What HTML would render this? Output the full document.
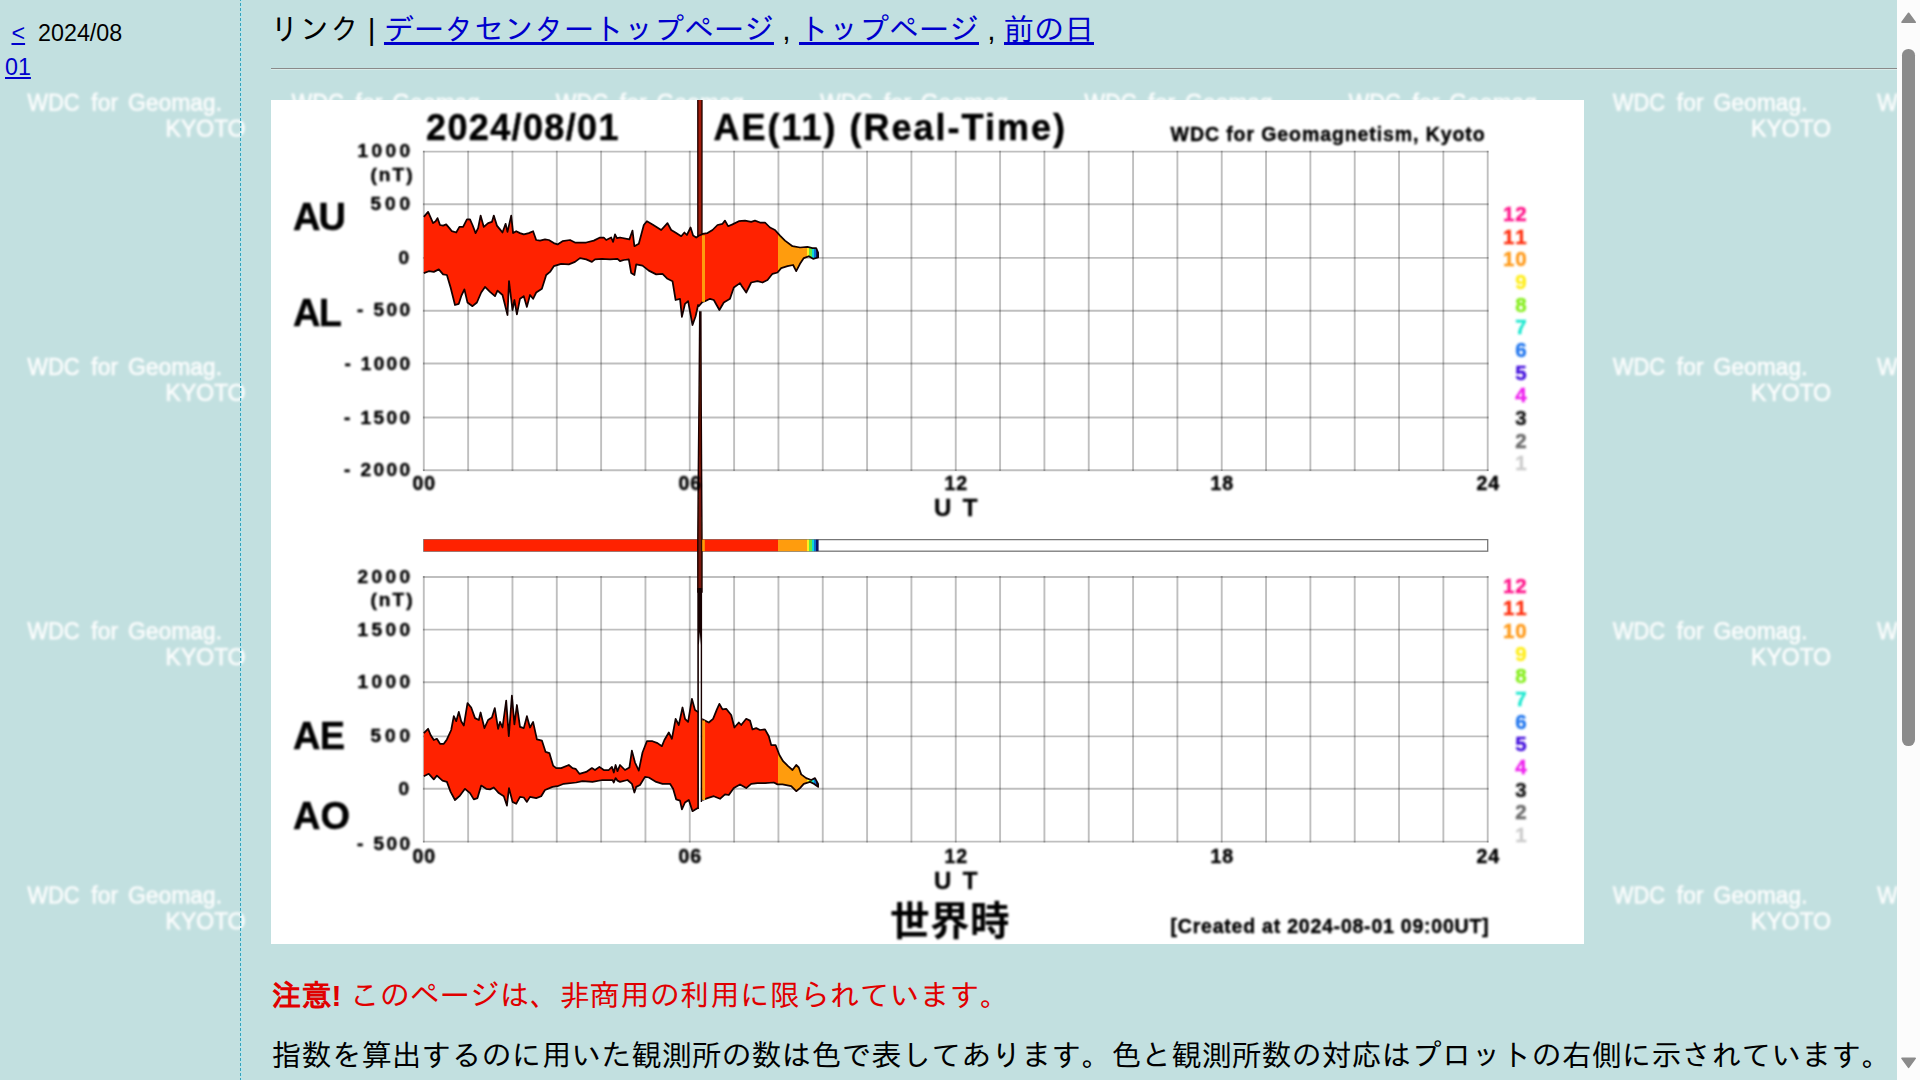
<!DOCTYPE html>
<html lang="ja">
<head>
<meta charset="utf-8">
<title>AE index</title>
<style>
html,body{margin:0;padding:0;width:1920px;height:1080px;overflow:hidden;background:#c2e0e0;}
body{position:relative;font-family:"Liberation Sans","IPAGothic","Noto Sans CJK JP",sans-serif;color:#000;}
a{color:#0000cd;text-decoration:underline;}
#wm{position:absolute;left:0;top:0;width:1897px;height:1080px;z-index:0;}
#divider{position:absolute;left:240px;top:0;width:1px;height:1080px;z-index:1;background:repeating-linear-gradient(to bottom,#3f9fb5 0,#3f9fb5 1px,transparent 1px,transparent 3px,#3f9fb5 3px,#3f9fb5 5px);}
#divider2{position:absolute;left:241px;top:0;width:1px;height:1080px;z-index:1;background:repeating-linear-gradient(to bottom,#a5ecfa 0,#a5ecfa 1px,transparent 1px,transparent 3px,#a5ecfa 3px,#a5ecfa 5px);}
#left{position:absolute;left:0;top:0;width:240px;height:1080px;z-index:2;font-size:23.3px;}
#left .l1{position:absolute;left:5px;top:20px;white-space:pre;line-height:26px;}
#left .l2{position:absolute;left:5px;top:54px;white-space:pre;line-height:26px;}
#main{position:absolute;left:241px;top:0;width:1656px;height:1080px;z-index:2;overflow:hidden;font-size:30px;}
#links{position:absolute;left:28.5px;top:12.5px;white-space:nowrap;line-height:34px;}
#hr{position:absolute;left:30px;top:68px;width:1626px;height:0;border-top:1px solid #8a8a8a;border-bottom:1px solid #d9ecea;}
#plot{position:absolute;left:30px;top:100px;width:1313px;height:844px;background:#fff;}
#note{position:absolute;left:30.5px;top:978.5px;white-space:nowrap;line-height:34px;color:#e00000;}
#desc{position:absolute;left:30.5px;top:1038.5px;white-space:nowrap;line-height:34px;}
#sb{position:absolute;left:1897px;top:0;width:23px;height:1080px;background:#fcfcfc;z-index:3;}
#sb .thumb{position:absolute;left:5.3px;top:49px;width:12.6px;height:697px;border-radius:6.3px;background:#8b8b8b;}
#sb svg{position:absolute;left:0;top:0;}
</style>
</head>
<body>
<svg id="wm" width="1897" height="1080">
<defs>
<filter id="wb" x="-5%" y="-20%" width="110%" height="140%"><feGaussianBlur stdDeviation="0.85"/></filter>
<pattern id="wp" x="0" y="0" width="264.25" height="264.25" patternUnits="userSpaceOnUse">
<g fill="#fff" fill-opacity="0.95" stroke="#fff" stroke-opacity="0.8" stroke-width="0.7" font-family="Liberation Sans, sans-serif" filter="url(#wb)">
<text y="110.6" font-size="23.5"><tspan x="27.5" textLength="52" lengthAdjust="spacingAndGlyphs">WDC</tspan><tspan x="91.3" textLength="26.8" lengthAdjust="spacingAndGlyphs">for</tspan><tspan x="128.1" textLength="93.8" lengthAdjust="spacingAndGlyphs">Geomag.</tspan></text>
<text x="165.6" y="136.5" font-size="23" textLength="80" lengthAdjust="spacing">KYOTO</text>
</g>
</pattern>
</defs>
<rect x="0" y="0" width="1897" height="1080" fill="url(#wp)"/>
</svg>
<div id="divider"></div><div id="divider2"></div>
<div id="left">
<div class="l1">&nbsp;<a>&lt;</a>&nbsp;&nbsp;2024/08</div>
<div class="l2"><a>01</a></div>
</div>
<div id="main">
<div id="links">リンク | <a>データセンタートップページ</a> , <a>トップページ</a> , <a>前の日</a></div>
<div id="hr"></div>
<div id="plot"><!--PLOT--><svg id="plotsvg" width="1313" height="844" viewBox="271 100 1313 844" font-family="Liberation Sans, sans-serif" font-weight="bold">
<defs>
<filter id="pb" x="-2%" y="-2%" width="104%" height="104%"><feGaussianBlur stdDeviation="0.45"/></filter>
<filter id="pt" x="-2%" y="-2%" width="104%" height="104%"><feGaussianBlur stdDeviation="0.85"/></filter>
<linearGradient id="cg" gradientUnits="userSpaceOnUse" x1="423.8" y1="0" x2="818.6" y2="0">
<stop offset="0.00000" stop-color="#ff2000"/>
<stop offset="0.89615" stop-color="#ff2000"/>
<stop offset="0.89640" stop-color="#ff9c08"/>
<stop offset="0.97112" stop-color="#ff9c08"/>
<stop offset="0.97138" stop-color="#ffee20"/>
<stop offset="0.97670" stop-color="#ffee20"/>
<stop offset="0.97695" stop-color="#66e840"/>
<stop offset="0.98227" stop-color="#66e840"/>
<stop offset="0.98252" stop-color="#10d8d8"/>
<stop offset="0.98784" stop-color="#10d8d8"/>
<stop offset="0.98810" stop-color="#1070d0"/>
<stop offset="0.99341" stop-color="#1070d0"/>
<stop offset="0.99367" stop-color="#101860"/>
<stop offset="1.00000" stop-color="#101860"/>
</linearGradient>
<filter id="pb2" x="-50%" y="-2%" width="200%" height="104%"><feGaussianBlur stdDeviation="0.45"/></filter>
<clipPath id="ct"><rect x="271" y="100" width="1313" height="440"/></clipPath>
</defs>
<rect x="271" y="100" width="1313" height="844" fill="#fff"/>
<g filter="url(#pb)">
</g><g filter="url(#pb2)">
<path d="M423.80 150.70V471.10M468.13 150.70V471.10M512.46 150.70V471.10M556.79 150.70V471.10M601.12 150.70V471.10M645.45 150.70V471.10M689.78 150.70V471.10M734.10 150.70V471.10M778.43 150.70V471.10M822.76 150.70V471.10M867.09 150.70V471.10M911.42 150.70V471.10M955.75 150.70V471.10M1000.08 150.70V471.10M1044.41 150.70V471.10M1088.74 150.70V471.10M1133.07 150.70V471.10M1177.40 150.70V471.10M1221.73 150.70V471.10M1266.05 150.70V471.10M1310.38 150.70V471.10M1354.71 150.70V471.10M1399.04 150.70V471.10M1443.37 150.70V471.10M1487.70 150.70V471.10M423.80 576.10V842.50M468.13 576.10V842.50M512.46 576.10V842.50M556.79 576.10V842.50M601.12 576.10V842.50M645.45 576.10V842.50M689.78 576.10V842.50M734.10 576.10V842.50M778.43 576.10V842.50M822.76 576.10V842.50M867.09 576.10V842.50M911.42 576.10V842.50M955.75 576.10V842.50M1000.08 576.10V842.50M1044.41 576.10V842.50M1088.74 576.10V842.50M1133.07 576.10V842.50M1177.40 576.10V842.50M1221.73 576.10V842.50M1266.05 576.10V842.50M1310.38 576.10V842.50M1354.71 576.10V842.50M1399.04 576.10V842.50M1443.37 576.10V842.50M1487.70 576.10V842.50" fill="none" stroke="#000" stroke-opacity="0.25" stroke-width="1.9"/>
<path d="M422.90 151.60H1488.60M422.90 204.20H1488.60M422.90 257.90H1488.60M422.90 310.70H1488.60M422.90 363.50H1488.60M422.90 417.50H1488.60M422.90 470.20H1488.60M422.90 577.00H1488.60M422.90 629.60H1488.60M422.90 682.30H1488.60M422.90 736.40H1488.60M422.90 788.80H1488.60M422.90 841.60H1488.60" fill="none" stroke="#000" stroke-opacity="0.25" stroke-width="1.9"/>
</g><g filter="url(#pb)">
<rect x="423.8" y="539.6" width="1063.9" height="11.6" fill="#fff" stroke="#777" stroke-width="1.3"/>
<rect x="423.8" y="539.6" width="394.8" height="11.6" fill="url(#cg)"/>
</g><g filter="url(#pb2)">
<rect x="697.8" y="98" width="4.2" height="142" fill="#a01a08" stroke="#1a0500" stroke-width="1.3"/>
<path d="M699.7 312 L699.0 400 L698.3 470 L697.8 540 L697.8 592 L702.0 592 L702.0 540 L701.6 470 L701.2 400 L700.9 312 Z" fill="#7a1508" stroke="#1a0500" stroke-width="1.4"/>
</g><g filter="url(#pb)">
<polygon points="423.8,216.9 428.1,211.9 430.0,216.2 433.1,223.1 435.6,221.2 437.5,218.1 440.0,225.0 443.1,225.6 446.2,224.4 449.4,228.1 451.9,231.2 456.2,232.5 459.4,226.9 463.1,226.9 466.9,219.4 470.0,219.4 472.5,225.0 475.6,233.1 478.1,228.1 480.6,215.6 483.8,226.9 488.1,223.1 491.9,221.9 493.8,215.6 496.9,225.6 500.0,229.4 502.5,232.5 505.6,223.8 507.5,231.9 511.2,215.6 513.1,233.1 516.2,231.2 520.0,233.1 523.8,234.4 528.8,233.1 533.1,231.2 536.2,240.0 540.0,240.6 545.0,239.4 548.8,240.0 553.8,243.1 557.5,244.4 562.5,241.2 570.0,240.0 575.0,242.5 586.2,242.5 593.8,240.6 600.0,237.5 603.8,237.5 606.2,240.0 611.2,237.5 613.1,241.9 615.0,234.4 616.9,238.1 620.0,237.5 629.4,239.4 632.5,230.6 634.4,246.2 638.8,243.8 643.8,225.0 646.9,221.2 652.5,224.4 661.2,230.0 667.5,223.1 671.2,230.0 676.2,233.1 681.2,236.2 684.4,232.5 686.9,235.0 690.6,227.5 693.1,235.6 696.2,237.5 698.1,236.2 699.0,235.5 702.0,234.5 702.5,233.8 707.5,233.1 712.5,230.0 717.5,225.0 722.5,223.8 725.0,220.6 728.1,226.2 732.5,224.4 738.8,221.2 745.0,220.6 751.2,221.9 755.0,220.6 760.0,222.5 765.0,222.5 770.0,227.5 775.0,230.0 780.0,235.6 785.0,240.6 792.5,246.2 800.0,247.5 807.5,246.9 812.5,248.1 816.2,248.1 818.1,252.5 818.1,257.5 813.1,258.8 808.8,256.2 803.8,258.1 800.0,263.8 796.2,271.2 793.1,265.0 787.5,266.2 781.2,268.1 777.5,272.5 772.5,273.8 767.5,280.0 762.5,282.5 757.5,281.2 751.2,282.5 746.2,292.5 741.9,286.2 740.0,283.1 733.8,287.5 730.0,298.8 723.8,302.5 719.4,310.0 713.8,300.0 710.0,298.8 705.0,301.2 702.5,301.9 702.0,302.5 699.0,306.0 698.1,305.0 695.6,316.2 692.5,325.0 688.1,301.2 685.0,303.8 681.9,316.9 680.0,298.8 675.6,300.0 672.5,281.2 667.5,278.8 662.5,273.8 656.2,274.4 648.8,270.6 642.5,265.6 636.2,264.4 634.4,275.0 631.2,273.1 628.8,259.4 623.8,260.0 620.0,261.2 617.5,258.8 610.0,259.4 601.9,258.8 595.0,259.4 591.9,261.9 586.2,259.4 580.0,258.1 575.0,261.9 568.8,264.4 561.2,263.8 553.8,266.2 550.0,271.9 546.2,275.0 541.9,288.8 536.2,292.5 533.1,298.8 530.0,295.0 526.9,306.9 523.8,296.2 520.0,298.8 516.9,314.4 514.4,300.0 512.5,310.0 509.0,281.2 507.5,315.0 502.5,295.0 497.5,290.6 495.0,296.2 490.0,291.9 485.0,286.9 481.2,292.5 476.9,302.5 472.5,306.2 467.5,302.5 464.4,289.4 461.2,296.2 458.8,303.8 455.0,305.0 450.6,287.5 446.9,275.0 443.1,274.4 438.8,269.4 433.8,271.9 428.8,271.2 423.8,273.1" fill="url(#cg)"/><polyline points="423.8,216.9 428.1,211.9 430.0,216.2 433.1,223.1 435.6,221.2 437.5,218.1 440.0,225.0 443.1,225.6 446.2,224.4 449.4,228.1 451.9,231.2 456.2,232.5 459.4,226.9 463.1,226.9 466.9,219.4 470.0,219.4 472.5,225.0 475.6,233.1 478.1,228.1 480.6,215.6 483.8,226.9 488.1,223.1 491.9,221.9 493.8,215.6 496.9,225.6 500.0,229.4 502.5,232.5 505.6,223.8 507.5,231.9 511.2,215.6 513.1,233.1 516.2,231.2 520.0,233.1 523.8,234.4 528.8,233.1 533.1,231.2 536.2,240.0 540.0,240.6 545.0,239.4 548.8,240.0 553.8,243.1 557.5,244.4 562.5,241.2 570.0,240.0 575.0,242.5 586.2,242.5 593.8,240.6 600.0,237.5 603.8,237.5 606.2,240.0 611.2,237.5 613.1,241.9 615.0,234.4 616.9,238.1 620.0,237.5 629.4,239.4 632.5,230.6 634.4,246.2 638.8,243.8 643.8,225.0 646.9,221.2 652.5,224.4 661.2,230.0 667.5,223.1 671.2,230.0 676.2,233.1 681.2,236.2 684.4,232.5 686.9,235.0 690.6,227.5 693.1,235.6 696.2,237.5 698.1,236.2 699.0,235.5 702.0,234.5 702.5,233.8 707.5,233.1 712.5,230.0 717.5,225.0 722.5,223.8 725.0,220.6 728.1,226.2 732.5,224.4 738.8,221.2 745.0,220.6 751.2,221.9 755.0,220.6 760.0,222.5 765.0,222.5 770.0,227.5 775.0,230.0 780.0,235.6 785.0,240.6 792.5,246.2 800.0,247.5 807.5,246.9 812.5,248.1 816.2,248.1 818.1,252.5 818.1,257.5 813.1,258.8 808.8,256.2 803.8,258.1 800.0,263.8 796.2,271.2 793.1,265.0 787.5,266.2 781.2,268.1 777.5,272.5 772.5,273.8 767.5,280.0 762.5,282.5 757.5,281.2 751.2,282.5 746.2,292.5 741.9,286.2 740.0,283.1 733.8,287.5 730.0,298.8 723.8,302.5 719.4,310.0 713.8,300.0 710.0,298.8 705.0,301.2 702.5,301.9 702.0,302.5 699.0,306.0 698.1,305.0 695.6,316.2 692.5,325.0 688.1,301.2 685.0,303.8 681.9,316.9 680.0,298.8 675.6,300.0 672.5,281.2 667.5,278.8 662.5,273.8 656.2,274.4 648.8,270.6 642.5,265.6 636.2,264.4 634.4,275.0 631.2,273.1 628.8,259.4 623.8,260.0 620.0,261.2 617.5,258.8 610.0,259.4 601.9,258.8 595.0,259.4 591.9,261.9 586.2,259.4 580.0,258.1 575.0,261.9 568.8,264.4 561.2,263.8 553.8,266.2 550.0,271.9 546.2,275.0 541.9,288.8 536.2,292.5 533.1,298.8 530.0,295.0 526.9,306.9 523.8,296.2 520.0,298.8 516.9,314.4 514.4,300.0 512.5,310.0 509.0,281.2 507.5,315.0 502.5,295.0 497.5,290.6 495.0,296.2 490.0,291.9 485.0,286.9 481.2,292.5 476.9,302.5 472.5,306.2 467.5,302.5 464.4,289.4 461.2,296.2 458.8,303.8 455.0,305.0 450.6,287.5 446.9,275.0 443.1,274.4 438.8,269.4 433.8,271.9 428.8,271.2 423.8,273.1" fill="none" stroke="#120300" stroke-width="1.75" stroke-linejoin="round"/>
<rect x="702" y="235.3" width="3" height="66.5" fill="#ff9c08"/>
<rect x="702.2" y="539.6" width="2.6" height="11.6" fill="#ff9c08"/>
<polygon points="423.8,733.1 428.1,728.8 430.6,735.0 433.8,740.0 436.9,738.8 440.0,743.8 443.8,743.8 446.9,739.4 451.2,730.0 453.8,716.2 456.2,721.2 458.8,711.9 461.2,721.2 463.8,725.6 467.5,703.1 471.2,707.5 475.0,718.1 478.8,720.0 480.6,712.5 484.4,728.1 488.1,720.0 491.9,717.5 494.8,708.1 498.1,728.8 500.0,721.9 502.5,727.5 506.2,700.6 508.8,736.2 511.9,695.6 514.4,724.4 516.9,705.0 520.0,726.9 523.8,728.1 526.9,716.2 530.0,727.5 533.1,721.9 536.9,739.4 541.9,740.6 545.6,751.9 549.4,753.1 553.1,765.6 556.2,768.1 561.2,768.1 568.8,765.0 572.5,768.1 575.6,768.8 579.4,773.8 586.2,771.9 591.9,768.1 595.0,770.0 599.4,766.9 603.8,770.0 608.8,770.0 611.9,766.9 613.8,772.5 615.6,765.0 617.5,771.2 620.0,765.0 625.0,770.0 629.4,767.5 631.9,750.6 635.0,762.5 638.8,770.6 642.5,752.5 646.9,741.2 652.5,741.2 657.5,743.1 661.9,746.2 664.4,740.0 668.8,732.5 671.9,738.8 675.6,718.8 678.8,725.0 682.5,707.5 685.0,718.8 688.1,721.9 691.9,698.8 695.0,710.0 697.8,711.9 698.5,712.0 698.5,808.0 697.8,808.1 692.5,811.2 688.8,800.0 685.0,802.5 681.9,809.4 680.0,800.6 676.2,799.4 673.1,788.8 670.0,783.8 662.5,783.8 656.2,781.9 648.8,777.5 645.0,776.9 640.0,785.0 636.2,786.9 634.4,792.5 631.9,783.8 627.5,780.0 620.0,781.9 617.5,780.6 615.6,778.1 613.8,782.5 612.5,780.0 602.5,780.0 592.5,781.9 582.5,781.2 576.2,782.5 563.8,783.8 557.5,786.2 552.5,786.9 545.0,790.0 541.2,796.2 536.2,798.1 530.0,796.9 526.9,801.9 523.8,797.5 520.0,796.9 516.2,803.8 512.5,801.9 509.0,788.1 506.9,805.6 503.8,796.2 498.8,793.1 493.8,787.5 490.0,789.4 486.2,788.8 481.2,785.6 477.5,798.1 473.8,799.4 470.0,793.1 465.0,788.8 460.0,795.6 455.0,800.0 450.6,791.9 446.9,781.9 442.5,780.6 436.9,775.6 433.8,779.4 428.8,773.8 423.8,776.2" fill="url(#cg)"/><polyline points="423.8,733.1 428.1,728.8 430.6,735.0 433.8,740.0 436.9,738.8 440.0,743.8 443.8,743.8 446.9,739.4 451.2,730.0 453.8,716.2 456.2,721.2 458.8,711.9 461.2,721.2 463.8,725.6 467.5,703.1 471.2,707.5 475.0,718.1 478.8,720.0 480.6,712.5 484.4,728.1 488.1,720.0 491.9,717.5 494.8,708.1 498.1,728.8 500.0,721.9 502.5,727.5 506.2,700.6 508.8,736.2 511.9,695.6 514.4,724.4 516.9,705.0 520.0,726.9 523.8,728.1 526.9,716.2 530.0,727.5 533.1,721.9 536.9,739.4 541.9,740.6 545.6,751.9 549.4,753.1 553.1,765.6 556.2,768.1 561.2,768.1 568.8,765.0 572.5,768.1 575.6,768.8 579.4,773.8 586.2,771.9 591.9,768.1 595.0,770.0 599.4,766.9 603.8,770.0 608.8,770.0 611.9,766.9 613.8,772.5 615.6,765.0 617.5,771.2 620.0,765.0 625.0,770.0 629.4,767.5 631.9,750.6 635.0,762.5 638.8,770.6 642.5,752.5 646.9,741.2 652.5,741.2 657.5,743.1 661.9,746.2 664.4,740.0 668.8,732.5 671.9,738.8 675.6,718.8 678.8,725.0 682.5,707.5 685.0,718.8 688.1,721.9 691.9,698.8 695.0,710.0 697.8,711.9 698.5,712.0" fill="none" stroke="#120300" stroke-width="1.75" stroke-linejoin="round"/><polyline points="423.8,776.2 428.8,773.8 433.8,779.4 436.9,775.6 442.5,780.6 446.9,781.9 450.6,791.9 455.0,800.0 460.0,795.6 465.0,788.8 470.0,793.1 473.8,799.4 477.5,798.1 481.2,785.6 486.2,788.8 490.0,789.4 493.8,787.5 498.8,793.1 503.8,796.2 506.9,805.6 509.0,788.1 512.5,801.9 516.2,803.8 520.0,796.9 523.8,797.5 526.9,801.9 530.0,796.9 536.2,798.1 541.2,796.2 545.0,790.0 552.5,786.9 557.5,786.2 563.8,783.8 576.2,782.5 582.5,781.2 592.5,781.9 602.5,780.0 612.5,780.0 613.8,782.5 615.6,778.1 617.5,780.6 620.0,781.9 627.5,780.0 631.9,783.8 634.4,792.5 636.2,786.9 640.0,785.0 645.0,776.9 648.8,777.5 656.2,781.9 662.5,783.8 670.0,783.8 673.1,788.8 676.2,799.4 680.0,800.6 681.9,809.4 685.0,802.5 688.8,800.0 692.5,811.2 697.8,808.1 698.5,808.0" fill="none" stroke="#120300" stroke-width="1.75" stroke-linejoin="round"/>
<polygon points="702.3,719.5 702.5,719.4 708.8,722.5 713.1,718.8 716.9,709.4 719.4,703.8 722.5,709.4 726.2,708.8 731.2,715.0 734.4,727.5 738.8,722.5 741.2,725.0 746.2,718.8 750.0,720.6 752.5,729.4 756.2,728.1 760.0,730.0 765.0,729.4 768.8,736.2 771.2,745.0 775.6,745.0 779.4,755.0 783.1,761.2 788.1,766.2 792.5,770.0 796.2,765.0 798.8,767.5 801.2,774.4 806.2,778.1 811.2,780.0 815.0,778.1 818.1,783.8 818.1,786.9 813.8,783.8 810.0,781.9 803.8,783.8 800.0,788.1 796.2,791.2 791.2,786.2 782.5,784.4 777.5,784.4 773.8,782.5 765.0,783.1 757.5,783.1 751.2,783.8 746.2,788.1 740.0,784.4 733.8,788.1 728.8,795.0 725.0,794.4 720.0,798.8 713.8,796.2 707.5,798.1 702.5,800.0 702.3,800.5" fill="url(#cg)"/><polyline points="702.3,719.5 702.5,719.4 708.8,722.5 713.1,718.8 716.9,709.4 719.4,703.8 722.5,709.4 726.2,708.8 731.2,715.0 734.4,727.5 738.8,722.5 741.2,725.0 746.2,718.8 750.0,720.6 752.5,729.4 756.2,728.1 760.0,730.0 765.0,729.4 768.8,736.2 771.2,745.0 775.6,745.0 779.4,755.0 783.1,761.2 788.1,766.2 792.5,770.0 796.2,765.0 798.8,767.5 801.2,774.4 806.2,778.1 811.2,780.0 815.0,778.1 818.1,783.8 818.1,786.9 813.8,783.8 810.0,781.9 803.8,783.8 800.0,788.1 796.2,791.2 791.2,786.2 782.5,784.4 777.5,784.4 773.8,782.5 765.0,783.1 757.5,783.1 751.2,783.8 746.2,788.1 740.0,784.4 733.8,788.1 728.8,795.0 725.0,794.4 720.0,798.8 713.8,796.2 707.5,798.1 702.5,800.0 702.3,800.5" fill="none" stroke="#120300" stroke-width="1.75" stroke-linejoin="round"/>
<rect x="702.3" y="720.5" width="2.8" height="79.5" fill="#ff9c08"/>
</g><g filter="url(#pt)" stroke="#000" stroke-width="0.45">
<text x="426.0" y="140.0" font-size="36" textLength="192.5" lengthAdjust="spacing">2024/08/01</text>
<text x="713.5" y="140.0" font-size="36" textLength="351.5" lengthAdjust="spacing">AE(11) (Real-Time)</text>
<text x="1170.6" y="141.0" font-size="19.5" textLength="314.0" lengthAdjust="spacing">WDC for Geomagnetism, Kyoto</text>
<text x="293.0" y="230.0" font-size="38" textLength="53.0" lengthAdjust="spacing">AU</text>
<text x="293.0" y="326.0" font-size="38" textLength="49.0" lengthAdjust="spacing">AL</text>
<text x="293.0" y="748.8" font-size="38" textLength="52.0" lengthAdjust="spacing">AE</text>
<text x="293.0" y="828.8" font-size="38" textLength="57.0" lengthAdjust="spacing">AO</text>
<text x="357.5" y="157.3" font-size="19" textLength="52.5" lengthAdjust="spacing">1000</text>
<text x="370.5" y="181.0" font-size="19" textLength="42.0" lengthAdjust="spacing">(nT)</text>
<text x="370.5" y="210.0" font-size="19" textLength="39.5" lengthAdjust="spacing">500</text>
<text x="398.5" y="263.7" font-size="19" textLength="11.5" lengthAdjust="spacing">0</text>
<text x="357.0" y="316.3" font-size="19" textLength="53.0" lengthAdjust="spacing">- 500</text>
<text x="344.5" y="370.0" font-size="19" textLength="65.5" lengthAdjust="spacing">- 1000</text>
<text x="344.0" y="424.3" font-size="19" textLength="66.0" lengthAdjust="spacing">- 1500</text>
<text x="344.0" y="476.3" font-size="19" textLength="66.0" lengthAdjust="spacing">- 2000</text>
<text x="357.5" y="583.0" font-size="19" textLength="52.5" lengthAdjust="spacing">2000</text>
<text x="370.5" y="606.3" font-size="19" textLength="42.0" lengthAdjust="spacing">(nT)</text>
<text x="357.5" y="635.5" font-size="19" textLength="52.5" lengthAdjust="spacing">1500</text>
<text x="357.5" y="688.0" font-size="19" textLength="52.5" lengthAdjust="spacing">1000</text>
<text x="370.5" y="742.0" font-size="19" textLength="39.5" lengthAdjust="spacing">500</text>
<text x="398.5" y="795.0" font-size="19" textLength="11.5" lengthAdjust="spacing">0</text>
<text x="357.0" y="850.0" font-size="19" textLength="53.0" lengthAdjust="spacing">- 500</text>
<text x="412.5" y="489.8" font-size="19.5" textLength="22.6" lengthAdjust="spacing">00</text>
<text x="412.5" y="863.2" font-size="19.5" textLength="22.6" lengthAdjust="spacing">00</text>
<text x="678.5" y="489.8" font-size="19.5" textLength="22.6" lengthAdjust="spacing">06</text>
<text x="678.5" y="863.2" font-size="19.5" textLength="22.6" lengthAdjust="spacing">06</text>
<text x="944.5" y="489.8" font-size="19.5" textLength="22.6" lengthAdjust="spacing">12</text>
<text x="944.5" y="863.2" font-size="19.5" textLength="22.6" lengthAdjust="spacing">12</text>
<text x="1210.4" y="489.8" font-size="19.5" textLength="22.6" lengthAdjust="spacing">18</text>
<text x="1210.4" y="863.2" font-size="19.5" textLength="22.6" lengthAdjust="spacing">18</text>
<text x="1476.4" y="489.8" font-size="19.5" textLength="22.6" lengthAdjust="spacing">24</text>
<text x="1476.4" y="863.2" font-size="19.5" textLength="22.6" lengthAdjust="spacing">24</text>
<text x="934.0" y="516.0" font-size="24" textLength="43.5" lengthAdjust="spacing" xml:space="preserve">U T</text>
<text x="934.0" y="889.4" font-size="24" textLength="43.5" lengthAdjust="spacing" xml:space="preserve">U T</text>
<text x="890" y="934.5" font-size="39.5" font-family="Noto Sans CJK JP, IPAGothic, sans-serif" font-weight="700" stroke="none" textLength="119.5" lengthAdjust="spacing">世界時</text>
<text x="1170.6" y="932.5" font-size="19.5" textLength="318.0" lengthAdjust="spacing">[Created at 2024-08-01 09:00UT]</text>
<text x="1503.0" y="221.0" font-size="20.5" textLength="23.6" lengthAdjust="spacing" fill="#ff1a8c" stroke="#ff1a8c">12</text>
<text x="1503.0" y="592.6" font-size="20.5" textLength="23.6" lengthAdjust="spacing" fill="#ff1a8c" stroke="#ff1a8c">12</text>
<text x="1503.0" y="243.7" font-size="20.5" textLength="23.6" lengthAdjust="spacing" fill="#ff3010" stroke="#ff3010">11</text>
<text x="1503.0" y="615.2" font-size="20.5" textLength="23.6" lengthAdjust="spacing" fill="#ff3010" stroke="#ff3010">11</text>
<text x="1503.0" y="266.3" font-size="20.5" textLength="23.6" lengthAdjust="spacing" fill="#ff9a1a" stroke="#ff9a1a">10</text>
<text x="1503.0" y="637.9" font-size="20.5" textLength="23.6" lengthAdjust="spacing" fill="#ff9a1a" stroke="#ff9a1a">10</text>
<text x="1515.2" y="288.9" font-size="20.5" textLength="11.4" lengthAdjust="spacing" fill="#ffee22" stroke="#ffee22">9</text>
<text x="1515.2" y="660.5" font-size="20.5" textLength="11.4" lengthAdjust="spacing" fill="#ffee22" stroke="#ffee22">9</text>
<text x="1515.2" y="311.6" font-size="20.5" textLength="11.4" lengthAdjust="spacing" fill="#88ee22" stroke="#88ee22">8</text>
<text x="1515.2" y="683.2" font-size="20.5" textLength="11.4" lengthAdjust="spacing" fill="#88ee22" stroke="#88ee22">8</text>
<text x="1515.2" y="334.2" font-size="20.5" textLength="11.4" lengthAdjust="spacing" fill="#22e8d0" stroke="#22e8d0">7</text>
<text x="1515.2" y="705.9" font-size="20.5" textLength="11.4" lengthAdjust="spacing" fill="#22e8d0" stroke="#22e8d0">7</text>
<text x="1515.2" y="356.9" font-size="20.5" textLength="11.4" lengthAdjust="spacing" fill="#2277ee" stroke="#2277ee">6</text>
<text x="1515.2" y="728.5" font-size="20.5" textLength="11.4" lengthAdjust="spacing" fill="#2277ee" stroke="#2277ee">6</text>
<text x="1515.2" y="379.5" font-size="20.5" textLength="11.4" lengthAdjust="spacing" fill="#4411dd" stroke="#4411dd">5</text>
<text x="1515.2" y="751.1" font-size="20.5" textLength="11.4" lengthAdjust="spacing" fill="#4411dd" stroke="#4411dd">5</text>
<text x="1515.2" y="402.2" font-size="20.5" textLength="11.4" lengthAdjust="spacing" fill="#ee22ee" stroke="#ee22ee">4</text>
<text x="1515.2" y="773.8" font-size="20.5" textLength="11.4" lengthAdjust="spacing" fill="#ee22ee" stroke="#ee22ee">4</text>
<text x="1515.2" y="424.9" font-size="20.5" textLength="11.4" lengthAdjust="spacing" fill="#1c1c1c" stroke="#1c1c1c">3</text>
<text x="1515.2" y="796.5" font-size="20.5" textLength="11.4" lengthAdjust="spacing" fill="#1c1c1c" stroke="#1c1c1c">3</text>
<text x="1515.2" y="447.5" font-size="20.5" textLength="11.4" lengthAdjust="spacing" fill="#6c6c6c" stroke="#6c6c6c">2</text>
<text x="1515.2" y="819.1" font-size="20.5" textLength="11.4" lengthAdjust="spacing" fill="#6c6c6c" stroke="#6c6c6c">2</text>
<text x="1515.2" y="470.1" font-size="20.5" textLength="11.4" lengthAdjust="spacing" fill="#cccccc" stroke="#cccccc">1</text>
<text x="1515.2" y="841.8" font-size="20.5" textLength="11.4" lengthAdjust="spacing" fill="#cccccc" stroke="#cccccc">1</text>
</g>
<g filter="url(#pb2)">
<rect x="699" y="690" width="1.8" height="118" fill="#fff"/>
<path d="M697.3 588 L702.1 588 L702.1 802 L700.7 802 L700.7 645 L699.8 632 L698.9 645 L698.9 809 L697.3 809 Z" fill="#140300"/>
</g>
</svg><!--/PLOT--></div>
<div id="note"><b>注意!</b> このページは、非商用の利用に限られています。</div>
<div id="desc">指数を算出するのに用いた観測所の数は色で表してあります。色と観測所数の対応はプロットの右側に示されています。</div>
</div>
<div id="sb">
<div class="thumb"></div>
<svg width="23" height="1080"><path d="M11.6 13.3 L18.2 22.3 L5 22.3 Z" fill="#8b8b8b" stroke="#8b8b8b" stroke-width="1.6" stroke-linejoin="round"/><path d="M11.6 1067.4 L18.2 1058.4 L5 1058.4 Z" fill="#8b8b8b" stroke="#8b8b8b" stroke-width="1.6" stroke-linejoin="round"/></svg>
</div>
</body>
</html>
